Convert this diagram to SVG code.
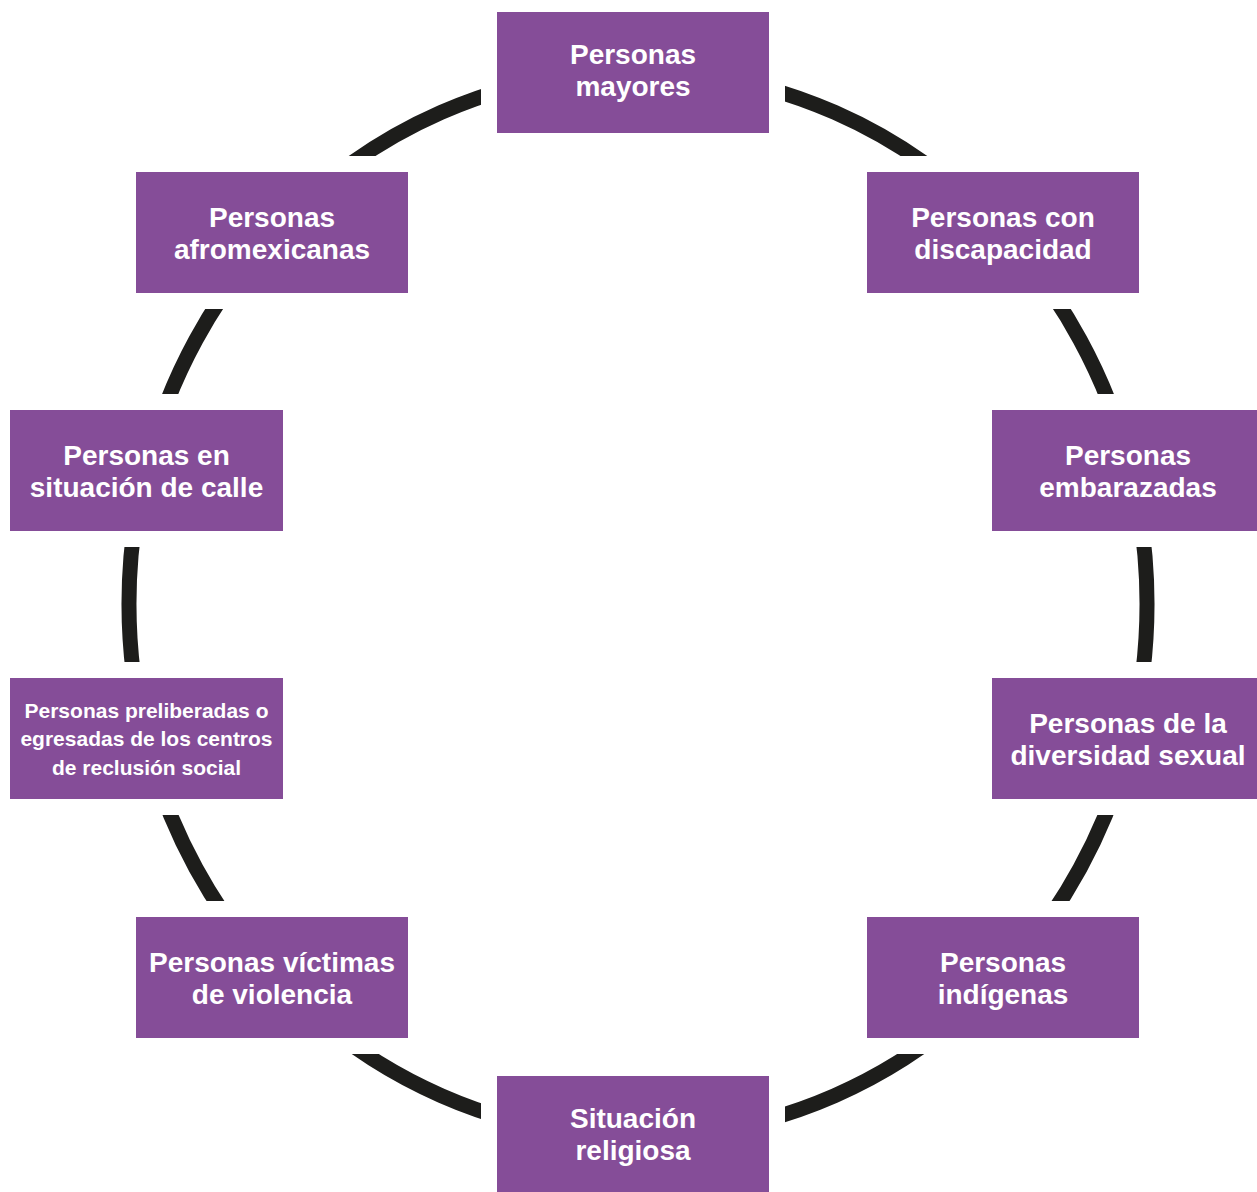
<svg xmlns="http://www.w3.org/2000/svg" width="1257" height="1192" viewBox="0 0 1257 1192">
<style>
.box{fill:#854d98;}
.lbl{fill:#ffffff;font-family:"Liberation Sans",Arial,Helvetica,sans-serif;font-weight:bold;font-size:28px;text-anchor:middle;}
.sm{font-size:21px;}
.arc{fill:none;stroke:#1d1d1b;stroke-width:15;stroke-linecap:butt;}
</style>
<defs>
<mask id="gaps" maskUnits="userSpaceOnUse" x="0" y="0" width="1257" height="1192">
<rect x="0" y="0" width="1257" height="1192" fill="#fff"/>
<rect x="481" y="-4" width="304" height="153" fill="#000"/>
<rect x="851" y="156" width="304" height="153" fill="#000"/>
<rect x="976" y="394" width="304" height="153" fill="#000"/>
<rect x="976" y="662" width="304" height="153" fill="#000"/>
<rect x="851" y="901" width="304" height="153" fill="#000"/>
<rect x="481" y="1060" width="304" height="153" fill="#000"/>
<rect x="120" y="901" width="304" height="153" fill="#000"/>
<rect x="-6" y="662" width="305" height="153" fill="#000"/>
<rect x="-6" y="394" width="305" height="153" fill="#000"/>
<rect x="120" y="156" width="304" height="153" fill="#000"/>
</mask>
</defs>
<g id="connectors" mask="url(#gaps)">
<path class="arc" d="M638,71 A509,533 0 0 1 1001.1,230.4"/>
<path class="arc" d="M1001.1,230.4 A509,533 0 0 1 1129.7,466.1"/>
<path class="arc" d="M1129.7,466.1 A509,533 0 0 1 1129.7,741.9"/>
<path class="arc" d="M1129.7,741.9 A509,533 0 0 1 1001.1,977.6"/>
<path class="arc" d="M1001.1,977.6 A509,533 0 0 1 638,1137"/>
<path class="arc" d="M638,1137 A509,533 0 0 1 274.9,977.6"/>
<path class="arc" d="M274.9,977.6 A509,533 0 0 1 146.3,741.9"/>
<path class="arc" d="M146.3,741.9 A509,533 0 0 1 146.3,466.1"/>
<path class="arc" d="M146.3,466.1 A509,533 0 0 1 274.9,230.4"/>
<path class="arc" d="M274.9,230.4 A509,533 0 0 1 638,71"/>
</g>
<g id="n-mayores"><rect class="box" x="497" y="12" width="272" height="121"/>
<text class="lbl" x="633" y="64">Personas</text><text class="lbl" x="633" y="96">mayores</text></g>
<g id="n-discapacidad"><rect class="box" x="867" y="172" width="272" height="121"/>
<text class="lbl" x="1003" y="226.5">Personas con</text><text class="lbl" x="1003" y="258.5">discapacidad</text></g>
<g id="n-embarazadas"><rect class="box" x="992" y="410" width="272" height="121"/>
<text class="lbl" x="1128" y="464.5">Personas</text><text class="lbl" x="1128" y="496.5">embarazadas</text></g>
<g id="n-diversidad"><rect class="box" x="992" y="678" width="272" height="121"/>
<text class="lbl" x="1128" y="732.5">Personas de la</text><text class="lbl" x="1128" y="764.5">diversidad sexual</text></g>
<g id="n-indigenas"><rect class="box" x="867" y="917" width="272" height="121"/>
<text class="lbl" x="1003" y="971.5">Personas</text><text class="lbl" x="1003" y="1003.5">indígenas</text></g>
<g id="n-religiosa"><rect class="box" x="497" y="1076" width="272" height="121"/>
<text class="lbl" x="633" y="1128">Situación</text><text class="lbl" x="633" y="1160">religiosa</text></g>
<g id="n-victimas"><rect class="box" x="136" y="917" width="272" height="121"/>
<text class="lbl" x="272" y="971.5">Personas víctimas</text><text class="lbl" x="272" y="1003.5">de violencia</text></g>
<g id="n-preliberadas"><rect class="box" x="10" y="678" width="273" height="121"/>
<text class="lbl sm" x="146.5" y="717.5">Personas preliberadas o</text><text class="lbl sm" x="146.5" y="746">egresadas de los centros</text><text class="lbl sm" x="146.5" y="774.5">de reclusión social</text></g>
<g id="n-calle"><rect class="box" x="10" y="410" width="273" height="121"/>
<text class="lbl" x="146.5" y="464.5">Personas en</text><text class="lbl" x="146.5" y="496.5">situación de calle</text></g>
<g id="n-afromexicanas"><rect class="box" x="136" y="172" width="272" height="121"/>
<text class="lbl" x="272" y="226.5">Personas</text><text class="lbl" x="272" y="258.5">afromexicanas</text></g>
</svg>
